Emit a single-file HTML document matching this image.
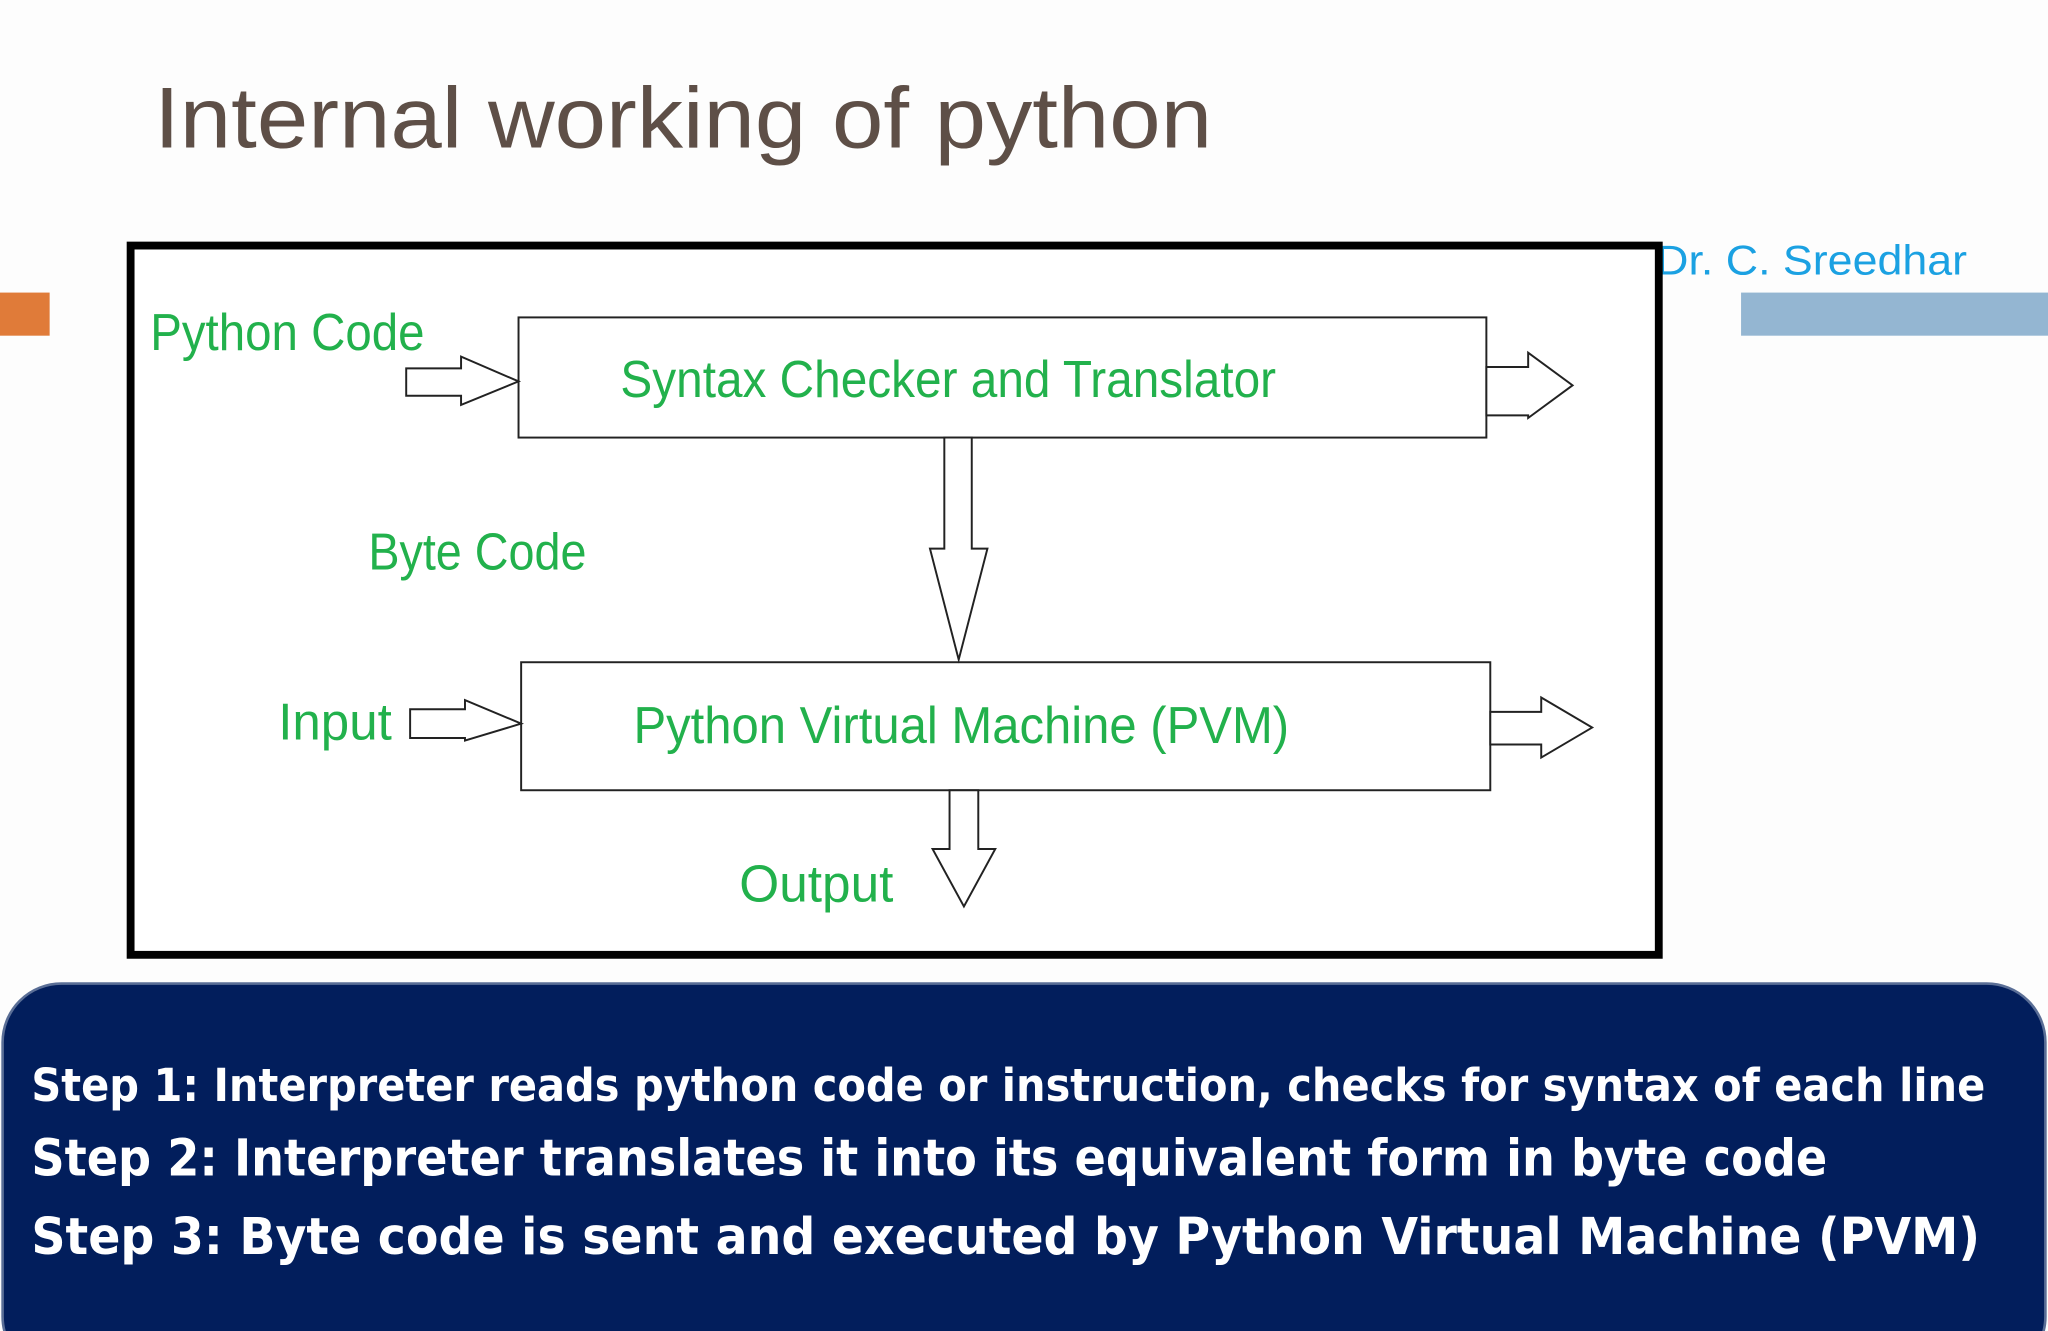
<!DOCTYPE html>
<html><head><meta charset="utf-8"><style>
html,body{margin:0;padding:0;background:#fff;width:2048px;height:1331px;overflow:hidden}
svg{display:block}
</style></head><body>
<svg width="2048" height="1331" viewBox="0 0 1568 1019" preserveAspectRatio="none" xmlns="http://www.w3.org/2000/svg">
<rect width="1568" height="1019" fill="#fdfdfd"/>
<text x="118" y="113" font-family="Liberation Sans, sans-serif" font-size="66" fill="#5e4f47" textLength="810" lengthAdjust="spacingAndGlyphs">Internal working of python</text>
<rect x="0" y="224" width="38" height="33" fill="#e07b39"/>
<rect x="1333" y="224" width="235" height="33" fill="#94b6d2"/>
<text x="1268" y="210" font-family="Liberation Sans, sans-serif" font-size="32" fill="#1ba1e2" textLength="238" lengthAdjust="spacingAndGlyphs">Dr. C. Sreedhar</text>
<rect x="100" y="188" width="1170" height="543" fill="#fff" stroke="#000" stroke-width="6"/>
<g fill="#fff" stroke="#222" stroke-width="1.5">
<rect x="397" y="243" width="741" height="92"/>
<rect x="399" y="507" width="742" height="98"/>
<polygon points="311,282 353,282 353,273 397,292 353,310 353,303 311,303"/>
<polygon points="1138,281 1170,281 1170,270 1204,295 1170,320 1170,318 1138,318" />
<polygon points="723,335 744,335 744,420 756,420 734,505 712,420 723,420"/>
<polygon points="314,543 356,543 356,536 399,554 356,567 356,565 314,565"/>
<polygon points="1141,545 1180,545 1180,534 1219,557 1180,580 1180,570 1141,570"/>
<polygon points="727,605 749,605 749,650 762,650 738,694 714,650 727,650"/>
</g>
<g font-family="Liberation Sans Narrow, Liberation Sans, sans-serif" fill="#22b14c" font-size="40">
<text x="115" y="268" textLength="210" lengthAdjust="spacingAndGlyphs">Python Code</text>
<text x="475" y="304" textLength="502" lengthAdjust="spacingAndGlyphs">Syntax Checker and Translator</text>
<text x="282" y="436" textLength="167" lengthAdjust="spacingAndGlyphs">Byte Code</text>
<text x="213" y="566" textLength="87" lengthAdjust="spacingAndGlyphs">Input</text>
<text x="485" y="569" textLength="502" lengthAdjust="spacingAndGlyphs">Python Virtual Machine (PVM)</text>
<text x="566" y="690" textLength="118" lengthAdjust="spacingAndGlyphs">Output</text>
</g>
<rect x="2" y="753" width="1564" height="300" rx="45" fill="#021e5c" stroke="#5a6e96" stroke-width="2"/>
<g font-family="DejaVu Sans, sans-serif" font-weight="bold" fill="#fff">
<text x="24" y="843" font-size="35" textLength="1496" lengthAdjust="spacingAndGlyphs">Step 1: Interpreter reads python code or instruction, checks for syntax of each line</text>
<text x="24" y="900" font-size="39" textLength="1375" lengthAdjust="spacingAndGlyphs">Step 2: Interpreter translates it into its equivalent form in byte code</text>
<text x="24" y="960" font-size="39" textLength="1492" lengthAdjust="spacingAndGlyphs">Step 3: Byte code is sent and executed by Python Virtual Machine (PVM)</text>
</g>
</svg>
</body></html>
